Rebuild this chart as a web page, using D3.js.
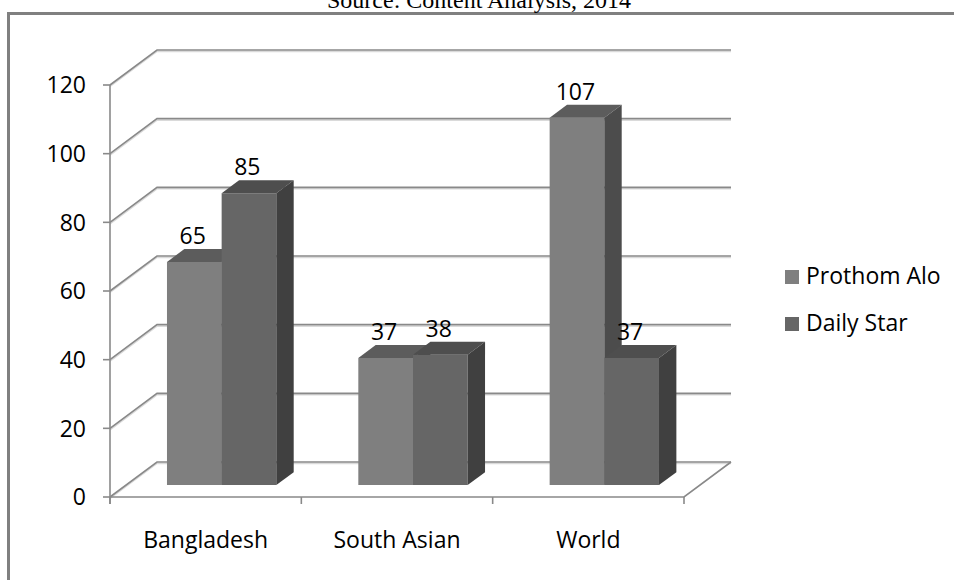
<!DOCTYPE html>
<html>
<head>
<meta charset="utf-8">
<script src="https://d3js.org/d3.v7.min.js"></script>
<style>
body { margin: 0; background: #fff; }
text { font-family: "Open Sans", sans-serif; fill: #000; }
</style>
</head>
<body>
<script>
var categories = ["Bangladesh", "South Asian", "World"];
var seriesNames = ["Prothom Alo", "Daily Star"];
var prothomAlo = [65, 37, 107];
var dailyStar = [85, 38, 37];
var yTicks = [0, 20, 40, 60, 80, 100, 120];

var width = 954, height = 580;
var depthX = 47, depthY = 35;     // offset of the back wall
var z0 = 0.34, z1 = 0.71;          // bar depth (fraction of floor)
var fs = "23px";

var svg = d3.select("body").append("svg")
  .attr("width", width).attr("height", height);

// outer frame + caption (cut off at the top, as in the source)
svg.append("rect").attr("x", 8.5).attr("y", 13.5).attr("width", 980).attr("height", 620)
  .attr("fill", "none").attr("stroke", "#808080").attr("stroke-width", 3);
svg.append("text").attr("x", 479).attr("y", 8).attr("text-anchor", "middle")
  .style("font-family", "'Liberation Serif', serif").style("font-size", "24px")
  .text("Source: Content Analysis, 2014");

var x = d3.scaleBand().domain(categories).range([110, 684]);
var xs = d3.scaleBand().domain(seriesNames).range([0, x.bandwidth()])
  .paddingInner(0).paddingOuter(0.75);
var y = d3.scaleLinear().domain([0, 120]).range([497, 85]);

function P(px, v, z) { return [px + z * depthX, y(v) - z * depthY]; }
function pathOf(pts) { return "M" + pts.map(function(p) { return p.join(","); }).join("L") + "Z"; }
function pts(a) { return a.map(function(p) { return p.join(","); }).join(" "); }

var grid = svg.append("g");
// back wall gridlines + left wall diagonals
yTicks.forEach(function(t) {
  var a = P(110, t, 0), b = P(110, t, 1), c = P(684, t, 1);
  grid.append("polyline").attr("points", pts([a, b, c]))
    .attr("fill", "none").attr("stroke", "#dadada").attr("stroke-width", 1.5)
    .attr("transform", "translate(0,1.5)");
  grid.append("polyline").attr("points", pts([a, b, c]))
    .attr("fill", "none").attr("stroke", "#898989").attr("stroke-width", 1.6);
});
// floor outline
grid.append("polyline").attr("points", pts([P(110, 0, 0), P(684, 0, 0), P(684, 0, 1)]))
  .attr("fill", "none").attr("stroke", "#898989").attr("stroke-width", 1.6);
// vertical axis
grid.append("line").attr("x1", 110).attr("x2", 110).attr("y1", y(120)).attr("y2", y(0) + 7)
  .attr("stroke", "#898989").attr("stroke-width", 1.6);
// y ticks and labels
yTicks.forEach(function(t) {
  grid.append("line").attr("x1", 103).attr("x2", 110).attr("y1", y(t)).attr("y2", y(t))
    .attr("stroke", "#898989").attr("stroke-width", 1.6);
  svg.append("text").attr("x", 86).attr("y", y(t)).attr("dy", "0.36em")
    .attr("text-anchor", "end").style("font-size", fs).text(t);
});
// category ticks and labels
for (var i = 0; i <= categories.length; i++) {
  var px = 110 + i * x.bandwidth();
  grid.append("line").attr("x1", px).attr("x2", px).attr("y1", y(0)).attr("y2", y(0) + 7)
    .attr("stroke", "#898989").attr("stroke-width", 1.6);
}
categories.forEach(function(c) {
  svg.append("text").attr("x", x(c) + x.bandwidth() / 2).attr("y", 548)
    .attr("text-anchor", "middle").style("font-size", fs).text(c);
});

// bars
var colors = {
  "Prothom Alo": {front: "#7f7f7f", top: "#5c5c5c", side: "#4c4c4c"},
  "Daily Star": {front: "#666666", top: "#4e4e4e", side: "#404040"}
};
var barData = [];
categories.forEach(function(c, i) {
  barData.push({cat: c, s: "Prothom Alo", v: prothomAlo[i]});
  barData.push({cat: c, s: "Daily Star", v: dailyStar[i]});
});
var bars = svg.append("g");
barData.forEach(function(d) {
  var x0 = x(d.cat) + xs(d.s), x1 = x0 + xs.bandwidth();
  var col = colors[d.s];
  var front = [P(x0, 0, z0), P(x1, 0, z0), P(x1, d.v, z0), P(x0, d.v, z0)];
  var top = [P(x0, d.v, z0), P(x1, d.v, z0), P(x1, d.v, z1), P(x0, d.v, z1)];
  var side = [P(x1, 0, z0), P(x1, 0, z1), P(x1, d.v, z1), P(x1, d.v, z0)];
  bars.append("path").attr("d", pathOf(front)).attr("fill", col.front);
  bars.append("path").attr("d", pathOf(top)).attr("fill", col.top);
  bars.append("path").attr("d", pathOf(side)).attr("fill", col.side);
});
barData.forEach(function(d) {
  var xc = x(d.cat) + xs(d.s) + xs.bandwidth() / 2;
  var p = P(xc, d.v, z1);
  svg.append("text").attr("x", p[0] - 19).attr("y", p[1] - 5)
    .attr("text-anchor", "middle").style("font-size", fs).text(d.v);
});

// legend
seriesNames.forEach(function(s, i) {
  var ly = 270 + i * 47;
  svg.append("rect").attr("x", 785).attr("y", ly).attr("width", 14).attr("height", 14)
    .attr("fill", colors[s].front);
  svg.append("text").attr("x", 806).attr("y", ly + 14).style("font-size", fs).text(s);
});
</script>
</body>
</html>
